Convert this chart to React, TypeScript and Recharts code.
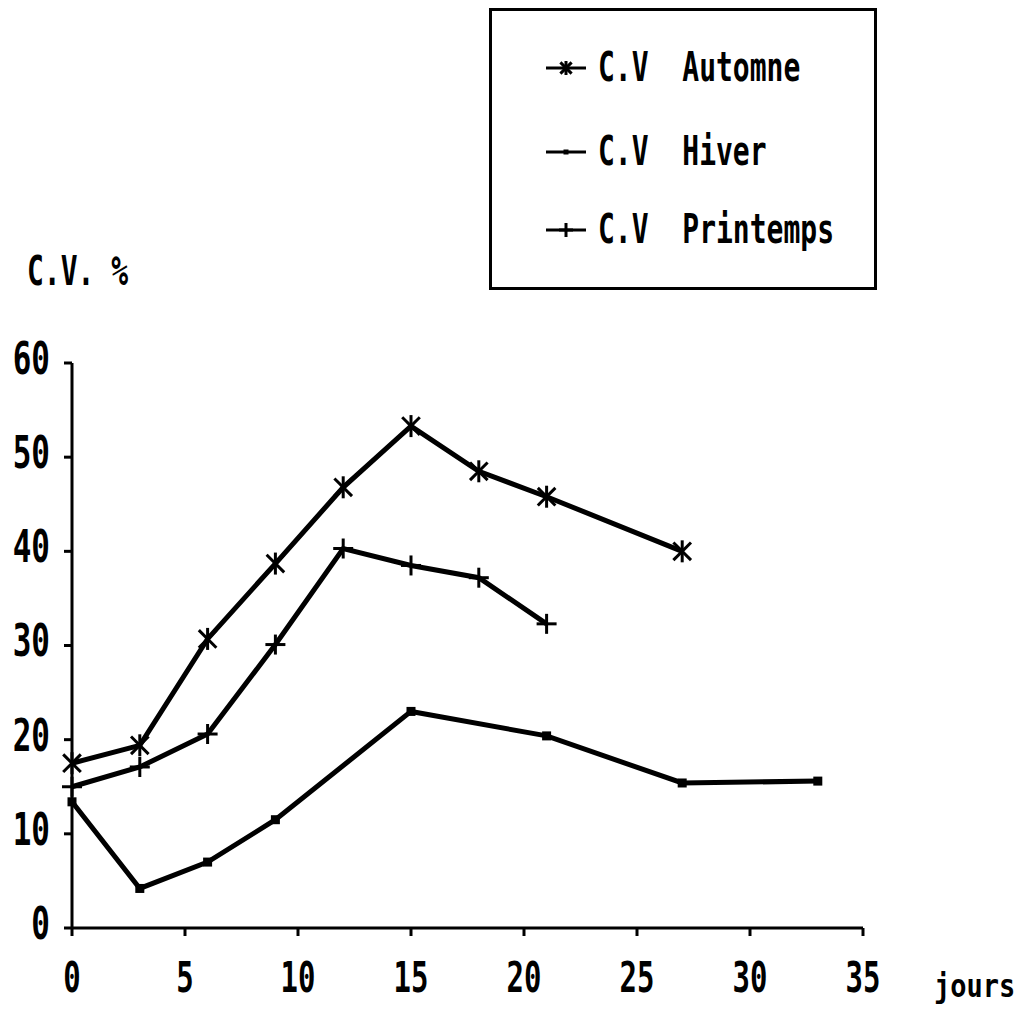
import { LineChart, Line, XAxis, YAxis, Legend } from 'recharts';

const JOURS_AUTOMNE = [0, 3, 6, 9, 12, 15, 18, 21, 27];
const CV_AUTOMNE = [17.5, 19.4, 30.7, 38.7, 46.8, 53.3, 48.5, 45.8, 40.0];

const JOURS_HIVER = [0, 3, 6, 9, 15, 21, 27, 33];
const CV_HIVER = [13.4, 4.2, 7.0, 11.5, 23.0, 20.4, 15.4, 15.6];

const JOURS_PRINTEMPS = [0, 3, 6, 9, 12, 15, 18, 21];
const CV_PRINTEMPS = [15.0, 17.1, 20.6, 30.1, 40.3, 38.5, 37.2, 32.3];

const X_TICKS = [0, 5, 10, 15, 20, 25, 30, 35];
const Y_TICKS = [0, 10, 20, 30, 40, 50, 60];

const SERIES_NAMES = ['C.V  Automne', 'C.V  Hiver', 'C.V  Printemps'];

const FONT = '"DejaVu Sans Mono", "Liberation Mono", monospace';
const INK = '#000';
const TALL = 1.45; // police étroite et haute de l'original

const toRows = (xs: number[], ys: number[]) => xs.map((x, i) => ({ x, y: ys[i] }));

const automne = toRows(JOURS_AUTOMNE, CV_AUTOMNE);
const hiver = toRows(JOURS_HIVER, CV_HIVER);
const printemps = toRows(JOURS_PRINTEMPS, CV_PRINTEMPS);

// marqueurs (taille fixe : recharts passe son propre r)
function Star({ cx, cy, size = 11 }: any) {
  if (cx == null || cy == null) return null;
  const d = size * 0.8;
  return (
    <g stroke={INK} strokeWidth={3}>
      <line x1={cx} y1={cy - size} x2={cx} y2={cy + size} />
      <line x1={cx - d} y1={cy - d} x2={cx + d} y2={cy + d} />
      <line x1={cx - d} y1={cy + d} x2={cx + d} y2={cy - d} />
    </g>
  );
}

function Plus({ cx, cy, size = 10 }: any) {
  if (cx == null || cy == null) return null;
  return (
    <g stroke={INK} strokeWidth={3}>
      <line x1={cx} y1={cy - size} x2={cx} y2={cy + size} />
      <line x1={cx - size} y1={cy} x2={cx + size} y2={cy} />
    </g>
  );
}

function Square({ cx, cy, size = 4.5 }: any) {
  if (cx == null || cy == null) return null;
  return <rect x={cx - size} y={cy - size} width={size * 2} height={size * 2} fill={INK} />;
}

const YTick = ({ x, y, payload }: any) => (
  <g transform={`translate(${x},${y}) scale(1,${TALL})`}>
    <text x={0} y={7.5} textAnchor="end" fontFamily={FONT} fontWeight="bold" fontSize={31} fill={INK}>
      {payload.value}
    </text>
  </g>
);

const XTick = ({ x, y, payload }: any) => (
  <g transform={`translate(${x},${y + 52}) scale(1,${TALL})`}>
    <text x={0} y={0} textAnchor="middle" fontFamily={FONT} fontWeight="bold" fontSize={29} fill={INK}>
      {payload.value}
    </text>
  </g>
);

const tallText = {
  fontFamily: FONT,
  fontWeight: 'bold' as const,
  whiteSpace: 'pre' as const,
  color: INK,
  transform: `scaleY(${TALL})`,
  transformOrigin: 'center',
  lineHeight: 1,
};

function LegendBox() {
  const icons = [Star, Square, Plus];
  const rows = [68, 152, 230];
  return (
    <div
      style={{
        position: 'absolute',
        left: 489,
        top: 8,
        width: 382,
        height: 276,
        border: '3px solid #000',
        background: '#fff',
      }}
    >
      {SERIES_NAMES.map((name, i) => {
        const Icon = icons[i];
        return (
          <div key={name} style={{ position: 'absolute', left: 52, top: rows[i] - 11 - 20, height: 40, display: 'flex', alignItems: 'center' }}>
            <svg width={46} height={30} style={{ display: 'block' }}>
              <line x1={2} y1={15} x2={42} y2={15} stroke={INK} strokeWidth={3} />
              <Icon cx={22} cy={15} size={i === 1 ? 2.5 : 7} />
            </svg>
            <span style={{ ...tallText, marginLeft: 8, fontSize: 28 }}>{name}</span>
          </div>
        );
      })}
    </div>
  );
}

export default function App() {
  return (
    <div style={{ position: 'absolute', left: 0, top: 0, width: 1020, height: 1015, background: '#fff' }}>
      <LineChart
        width={1020}
        height={1015}
        margin={{ top: 363, right: 157, bottom: 27, left: 10 }}
      >
        <XAxis
          type="number"
          dataKey="x"
          domain={[0, 35]}
          ticks={X_TICKS}
          allowDuplicatedCategory={false}
          height={60}
          axisLine={{ stroke: INK, strokeWidth: 3 }}
          tickLine={{ stroke: INK, strokeWidth: 3 }}
          tickSize={8}
          tickMargin={4}
          tick={<XTick />}
        />
        <YAxis
          type="number"
          dataKey="y"
          domain={[0, 60]}
          ticks={Y_TICKS}
          width={62}
          axisLine={{ stroke: INK, strokeWidth: 3 }}
          tickLine={{ stroke: INK, strokeWidth: 3 }}
          tickSize={8}
          tickMargin={14}
          tick={<YTick />}
        />
        <Legend content={() => null} />
        <Line data={automne} dataKey="y" name={SERIES_NAMES[0]} stroke={INK} strokeWidth={5} dot={<Star />} activeDot={false} isAnimationActive={false} />
        <Line data={hiver} dataKey="y" name={SERIES_NAMES[1]} stroke={INK} strokeWidth={5} dot={<Square />} activeDot={false} isAnimationActive={false} />
        <Line data={printemps} dataKey="y" name={SERIES_NAMES[2]} stroke={INK} strokeWidth={5} dot={<Plus />} activeDot={false} isAnimationActive={false} />
      </LineChart>
      <LegendBox />
      <div style={{ ...tallText, position: 'absolute', left: 27, top: 258, fontSize: 28 }}>C.V. %</div>
      <div style={{ ...tallText, position: 'absolute', left: 934, top: 972, fontSize: 27, transform: 'scaleY(1.2)' }}>jours</div>
    </div>
  );
}
